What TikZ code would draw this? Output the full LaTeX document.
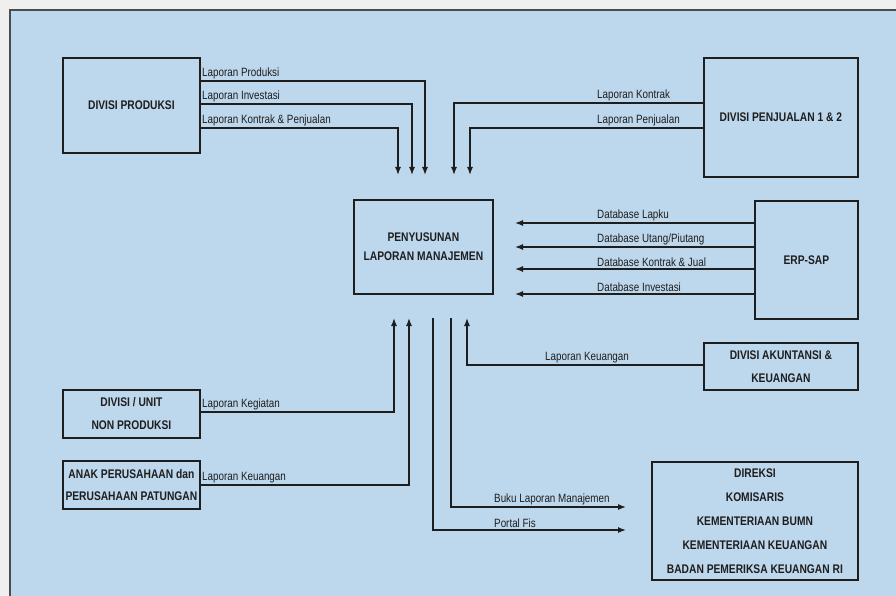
\documentclass[tikz,border=0pt]{standalone}
\usepackage{fontspec}
\setmainfont{Liberation Sans}[FakeStretch=0.82]
\usetikzlibrary{arrows.meta}
\definecolor{bgblue}{HTML}{BDD7EC}
\definecolor{outgray}{HTML}{EFEFEF}
\definecolor{ink}{HTML}{1E1E1E}
\tikzset{
  box/.style={draw=ink, line width=1.8pt, anchor=north west, inner sep=0pt,
    align=center, font=\fontsize{12.5}{23}\selectfont\bfseries, text=ink},
  lbl/.style={anchor=south west, inner sep=0pt, font=\fontsize{12}{14}\selectfont, text=ink},
  flow/.style={draw=ink, line width=1.3pt, -{Latex[length=8pt,width=6pt]}},
  plain/.style={draw=ink, line width=1.3pt}
}
\begin{document}
\begin{tikzpicture}[x=1pt,y=-1pt]
\useasboundingbox (0,0) rectangle (896,596);
\fill[outgray] (0,0) rectangle (896,596);
\fill[bgblue] (10,10) rectangle (900,600);
\draw[draw=black!70, line width=1.4pt] (10,600) -- (10,10) -- (900,10);

% boxes
\node[box, minimum width=137pt, minimum height=95pt] (prod) at (62,57) {DIVISI PRODUKSI};
\node[box, minimum width=154pt, minimum height=119pt] (penj) at (703,57) {DIVISI PENJUALAN 1 \& 2};
\node[box, minimum width=139pt, minimum height=94pt, font=\fontsize{12.5}{19}\selectfont\bfseries] (pen) at (353,199) {PENYUSUNAN\\LAPORAN MANAJEMEN};
\node[box, minimum width=103pt, minimum height=118pt] (erp) at (754,200) {ERP-SAP};
\node[box, minimum width=154pt, minimum height=47pt] (akt) at (703,342) {DIVISI AKUNTANSI \&\\KEUANGAN};
\node[box, minimum width=137pt, minimum height=48pt] (unit) at (62,389) {DIVISI / UNIT\\NON PRODUKSI};
\node[box, minimum width=137pt, minimum height=48pt, font=\fontsize{12.5}{22}\selectfont\bfseries] (anak) at (62,460) {ANAK PERUSAHAAN dan\\PERUSAHAAN PATUNGAN};
\node[box, minimum width=206pt, minimum height=118pt, font=\fontsize{12.5}{24}\selectfont\bfseries] (dir) at (651,461) {DIREKSI\\KOMISARIS\\KEMENTERIAAN BUMN\\KEMENTERIAAN KEUANGAN\\BADAN PEMERIKSA KEUANGAN RI};

% coordinates for free ends
\coordinate (t1) at (425,175);
\coordinate (t2) at (412,175);
\coordinate (t3) at (398,175);
\coordinate (t4) at (454,175);
\coordinate (t5) at (470,175);
\coordinate (e1) at (515,223);
\coordinate (e2) at (515,247);
\coordinate (e3) at (515,269);
\coordinate (e4) at (515,294);
\coordinate (u1) at (467,318);
\coordinate (u2) at (394,318);
\coordinate (u3) at (409,318);
\coordinate (s1) at (451,318);
\coordinate (s2) at (433,318);
\coordinate (o1) at (626,507);
\coordinate (o2) at (626,530);

% from DIVISI PRODUKSI
\draw[flow] (prod.east|-0,81) -| (t1);
\draw[flow] (prod.east|-0,104) -| (t2);
\draw[flow] (prod.east|-0,128) -| (t3);
\node[lbl] (lp1) at (202,79) {Laporan Produksi};
\node[lbl] (lp2) at (202,102) {Laporan Investasi};
\node[lbl] (lp3) at (202,126) {Laporan Kontrak \& Penjualan};

% from DIVISI PENJUALAN
\draw[flow] (penj.west|-0,103) -| (t4);
\draw[flow] (penj.west|-0,128) -| (t5);
\node[lbl] (lk1) at (597,101) {Laporan Kontrak};
\node[lbl] (lk2) at (597,126) {Laporan Penjualan};

% from ERP
\draw[flow] (erp.west|-e1) -- (e1);
\draw[flow] (erp.west|-e2) -- (e2);
\draw[flow] (erp.west|-e3) -- (e3);
\draw[flow] (erp.west|-e4) -- (e4);
\node[lbl] (d1) at (597,221) {Database Lapku};
\node[lbl] (d2) at (597,245) {Database Utang/Piutang};
\node[lbl] (d3) at (597,267) {Database Kontrak \& Jual};
\node[lbl] (d4) at (597,292) {Database Investasi};

% from AKUNTANSI
\draw[flow] (akt.west|-0,365) -| (u1);
\node[lbl] (ka) at (545,363) {Laporan Keuangan};

% from UNIT and ANAK
\draw[flow] (unit.east|-0,412) -| (u2);
\draw[flow] (anak.east|-0,485) -| (u3);
\node[lbl] (kg) at (202,410) {Laporan Kegiatan};
\node[lbl] (ku) at (202,483) {Laporan Keuangan};

% outputs
\draw[flow] (s1) |- (o1);
\draw[flow] (s2) |- (o2);
\node[lbl] (bk) at (494,505) {Buku Laporan Manajemen};
\node[lbl] (pf) at (494,528) {Portal Fis};
\end{tikzpicture}
\end{document}
